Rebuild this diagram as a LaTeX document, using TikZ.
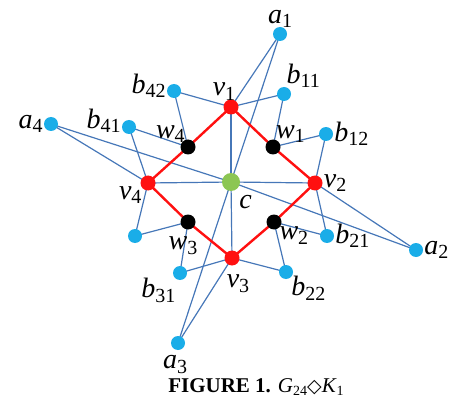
\documentclass[tikz,border=0pt]{standalone}
\usepackage{fontspec}
\setmainfont{Liberation Serif}
\newfontfamily\symfont{DejaVu Sans}
\usetikzlibrary{positioning, backgrounds}
\definecolor{bnodecol}{HTML}{1AADE8}
\definecolor{vnodecol}{HTML}{FF1010}
\definecolor{cnodecol}{HTML}{8CC653}
\definecolor{edgecol}{HTML}{4677B8}
\newcommand{\lb}[2]{\textit{#1}\raisebox{-0.35ex}{\fontsize{20}{20}\selectfont #2}}

\begin{document}
\begin{tikzpicture}[x=1pt, y=-1pt,
  dot/.style={circle, inner sep=0pt, minimum size=14pt},
  bnode/.style={dot, fill=bnodecol},
  vnode/.style={dot, fill=vnodecol, minimum size=15pt},
  wnode/.style={dot, fill=black, minimum size=15pt},
  cnode/.style={dot, fill=cnodecol, minimum size=18pt},
  lab/.style={font=\fontsize{28}{28}\selectfont, inner sep=1pt},
  bedge/.style={draw=edgecol, line width=1.2pt},
  redge/.style={draw=vnodecol, line width=2.4pt}]
  \useasboundingbox (0,0) rectangle (452,398);

  % Zentrum und Kreis
  \node[cnode, label={[lab, label distance=5pt]-60:\textit{c}}] (c) at (231,182) {};
  \node[vnode, label={[lab, label distance=-2pt, xshift=-7pt]90:\lb{v}{1}}] (v1) at (231,107) {};
  \node[vnode, label={[lab]0:\lb{v}{2}}] (v2) at (315,183) {};
  \node[vnode, label={[lab, label distance=8pt, xshift=6pt]-90:\lb{v}{3}}] (v3) at (232,258) {};
  \node[vnode, label={[lab, label distance=-2pt]-160:\lb{v}{4}}] (v4) at (148,183) {};
  \node[wnode, label={[lab, label distance=-4pt]60:\lb{w}{1}}] (w1) at (273,147) {};
  \node[wnode, label={[lab, label distance=-2pt]-40:\lb{w}{2}}] (w2) at (274,222) {};
  \node[wnode, label={[lab, label distance=6pt, xshift=-5pt]-90:\lb{w}{3}}] (w3) at (188,222) {};
  \node[wnode, label={[lab, label distance=-4pt]125:\lb{w}{4}}] (w4) at (188,147) {};

  % Blätter
  \node[bnode, label={[lab, label distance=-2pt]90:\lb{a}{1}}] (a1) at (280,34) {};
  \node[bnode, label={[lab]0:\lb{a}{2}}] (a2) at (416,250) {};
  \node[bnode, label={[lab, label distance=4pt, xshift=-3pt]-90:\lb{a}{3}}] (a3) at (178,343) {};
  \node[bnode, label={[lab]180:\lb{a}{4}}] (a4) at (51,124) {};
  \node[bnode, label={[lab, label distance=-2pt]75:\lb{b}{11}}] (b11) at (284,94) {};
  \node[bnode, label={[lab]0:\lb{b}{12}}] (b12) at (326,134) {};
  \node[bnode, label={[lab]0:\lb{b}{21}}] (b21) at (327,236) {};
  \node[bnode, label={[lab, label distance=-2pt]-35:\lb{b}{22}}] (b22) at (286,272) {};
  \node[bnode, label={[lab, label distance=-2pt]-130:\lb{b}{31}}] (b31) at (180,273) {};
  \node[bnode] (b32) at (135,236) {};
  \node[bnode, label={[lab, yshift=6pt]180:\lb{b}{41}}] (b41) at (129,127) {};
  \node[bnode, label={[lab, yshift=5pt]180:\lb{b}{42}}] (b42) at (174,91) {};

  % Kanten
  \begin{scope}[on background layer]
    \foreach \i in {1,...,4} {
      \path[bedge] (c.center) -- (v\i.center);
      \path[bedge] (c.center) -- (a\i.center);
      \path[bedge] (a\i.center) -- (v\i.center);
    }
    \path[bedge] (v1.center) -- (b11.center) -- (w1.center) -- (b12.center) -- (v2.center);
    \path[bedge] (v2.center) -- (b21.center) -- (w2.center) -- (b22.center) -- (v3.center);
    \path[bedge] (v3.center) -- (b31.center) -- (w3.center) -- (b32.center) -- (v4.center);
    \path[bedge] (v4.center) -- (b41.center) -- (w4.center) -- (b42.center) -- (v1.center);
    \path[redge] (v1.center) -- (w1.center) -- (v2.center) -- (w2.center) -- (v3.center)
      -- (w3.center) -- (v4.center) -- (w4.center) -- cycle;
  \end{scope}

  % Beschriftung
  \node[font=\fontsize{21}{21}\selectfont, inner sep=0pt] (cap) at (256,387)
    {\textbf{FIGURE 1.} \textit{G}\raisebox{-0.3ex}{\fontsize{14}{14}\selectfont 24}{\symfont\fontsize{19}{19}\selectfont ◇}\textit{K}\raisebox{-0.3ex}{\fontsize{14}{14}\selectfont 1}};
\end{tikzpicture}
\end{document}
